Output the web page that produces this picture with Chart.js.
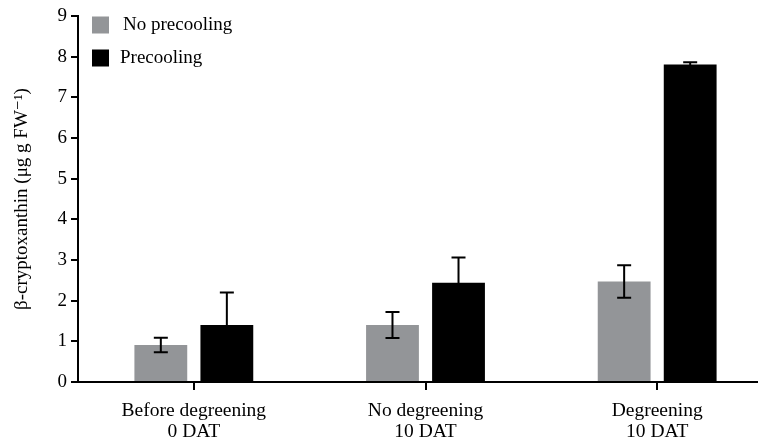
<!DOCTYPE html>
<html>
<head>
<meta charset="utf-8">
<script src="https://cdn.jsdelivr.net/npm/chart.js@4/dist/chart.umd.min.js"></script>
<style>
  html, body { margin: 0; padding: 0; background: #fff; overflow: hidden; }
  #wrap { width: 775px; height: 440px; position: relative; }
</style>
</head>
<body>
<div id="wrap"><canvas id="c"></canvas></div>
<script>
// β-cryptoxanthin content by treatment
const categories = [
  ['Before degreening', '0 DAT'],
  ['No degreening', '10 DAT'],
  ['Degreening', '10 DAT']
];
const seriesNames = ['No precooling', 'Precooling'];
const noPrecooling = [0.91, 1.40, 2.47];
const noPrecoolingErr = [0.18, 0.32, 0.40];
const precooling = [1.40, 2.44, 7.81];
const precoolingErr = [0.80, 0.62, 0.05];
const yTicks = [0, 1, 2, 3, 4, 5, 6, 7, 8, 9];

const serif = '"Liberation Serif", "DejaVu Serif", serif';

// Draws symmetric error bars on each bar
const errorBars = {
  id: 'errorBars',
  afterDatasetsDraw(chart) {
    const ctx = chart.ctx;
    const y = chart.scales.y;
    chart.data.datasets.forEach((ds, di) => {
      const meta = chart.getDatasetMeta(di);
      meta.data.forEach((bar, i) => {
        const v = ds.data[i], e = ds.errors[i];
        const top = y.getPixelForValue(v + e);
        const bot = y.getPixelForValue(v - e);
        const x = bar.x;
        ctx.save();
        ctx.strokeStyle = '#000';
        ctx.lineWidth = 2;
        ctx.beginPath();
        ctx.moveTo(x, top); ctx.lineTo(x, bot);
        ctx.moveTo(x - 7, top); ctx.lineTo(x + 7, top);
        ctx.moveTo(x - 7, bot); ctx.lineTo(x + 7, bot);
        ctx.stroke();
        ctx.restore();
      });
    });
  }
};

// Legend drawn inside the plot, top-left
const innerLegend = {
  id: 'innerLegend',
  afterDraw(chart) {
    const ctx = chart.ctx;
    const left = chart.chartArea.left + 14;
    const top = chart.chartArea.top;
    ctx.save();
    ctx.font = '19px ' + serif;
    ctx.textBaseline = 'middle';
    chart.data.datasets.forEach((ds, i) => {
      const cy = top + 9 + i * 33;
      ctx.fillStyle = ds.backgroundColor;
      ctx.fillRect(left, cy - 8.5, 17, 17);
      ctx.fillStyle = '#000';
      ctx.fillText(ds.label, left + (i === 0 ? 31 : 28), cy);
    });
    ctx.restore();
  }
};

new Chart(document.getElementById('c'), {
  type: 'bar',
  data: {
    labels: categories,
    datasets: [
      { label: seriesNames[0], data: noPrecooling, errors: noPrecoolingErr, backgroundColor: '#939598' },
      { label: seriesNames[1], data: precooling, errors: precoolingErr, backgroundColor: '#000000' }
    ]
  },
  options: {
    responsive: true,
    maintainAspectRatio: false,
    animation: false,
    devicePixelRatio: 1,
    categoryPercentage: 0.57,
    barPercentage: 0.8,
    layout: { padding: { top: 16, right: 2, left: 0, bottom: 0 } },
    plugins: { legend: { display: false }, tooltip: { enabled: false } },
    scales: {
      x: {
        grid: { offset: false, drawOnChartArea: false, drawTicks: true, tickLength: 8, tickColor: '#000', lineWidth: 2 },
        border: { color: '#000', width: 2 },
        ticks: { color: '#000', font: { family: serif, size: 19.5, lineHeight: 1.1 }, padding: 10, maxRotation: 0 },
        afterFit(s) { s.height = 58; }
      },
      y: {
        min: 0, max: 9,
        afterBuildTicks(s) { s.ticks = yTicks.map(v => ({ value: v })); },
        grid: { drawOnChartArea: false, drawTicks: true, tickLength: 7, tickColor: '#000', lineWidth: 2 },
        border: { color: '#000', width: 2 },
        ticks: { color: '#000', font: { family: serif, size: 19 }, padding: 4 },
        title: {
          display: true,
          text: 'β-cryptoxanthin (μg g FW⁻¹)',
          color: '#000',
          font: { family: serif, size: 19 },
          padding: { top: 11, bottom: 0 }
        },
        afterFit(s) { s.width = 78; }
      }
    }
  },
  plugins: [errorBars, innerLegend]
});
</script>
</body>
</html>
